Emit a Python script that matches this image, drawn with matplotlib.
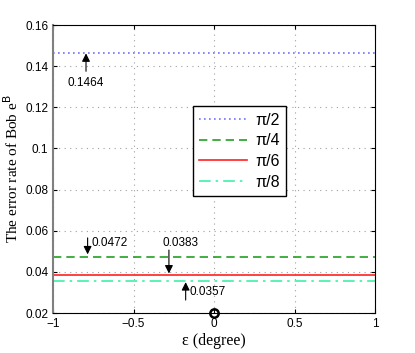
import matplotlib
matplotlib.use('Agg')
import matplotlib.pyplot as plt

# 数据
eps = [-1, 1]
labels = ['π/2', 'π/4', 'π/6', 'π/8']
rates = [0.1464, 0.0472, 0.0383, 0.0357]
colors = ['#7070ff', '#22a022', '#ff2020', '#40f0a8']
styles = [(0, (1, 2)), (0, (5, 3)), '-', (0, (7, 3, 1.5, 3))]

# 标注: (文字, 箭头尾, 箭头头, 文字位置)
notes = [
    ('0.1464', (-0.795, 0.1375), (-0.795, 0.1462), (-0.795, 0.1318)),
    ('0.0472', (-0.785, 0.0565), (-0.785, 0.0485), (-0.76, 0.0540)),
    ('0.0383', (-0.28, 0.0506), (-0.28, 0.0392), (-0.21, 0.0540)),
    ('0.0357', (-0.176, 0.0263), (-0.176, 0.0350), (-0.15, 0.0300)),
]

plt.rcParams['font.family'] = ['Liberation Sans', 'DejaVu Sans']

fig = plt.figure(figsize=(4.15, 3.53), dpi=100)
ax = fig.add_axes([53 / 415, 40 / 353, 322 / 415, 288 / 353])

for lab, r, c, s in zip(labels, rates, colors, styles):
    ax.plot(eps, [r, r], color=c, linestyle=s, linewidth=1.2, label=lab)

ax.plot([0], [0.02], 'o', markersize=6, markerfacecolor='none',
        markeredgecolor='black', markeredgewidth=1.8, clip_on=False, zorder=5)

for txt, tail, head, pos in notes:
    ax.annotate('', xy=head, xytext=tail,
                arrowprops=dict(arrowstyle='-|>', color='black', lw=0.8,
                                mutation_scale=12, shrinkA=0, shrinkB=0))
    ha = 'center' if txt in ('0.1464', '0.0383') else 'left'
    ax.text(pos[0], pos[1], txt, fontsize=8.5, ha=ha, va='center')

ax.set_xlim(-1, 1)
ax.set_ylim(0.02, 0.16)
ax.set_xticks([-1, -0.5, 0, 0.5, 1])
ax.set_xticklabels(['−1', '−0.5', '0', '0.5', '1'])
ax.set_yticks([0.02, 0.04, 0.06, 0.08, 0.1, 0.12, 0.14, 0.16])
ax.set_yticklabels(['0.02', '0.04', '0.06', '0.08', '0.1', '0.12', '0.14', '0.16'])
ax.tick_params(direction='in', labelsize=8.5, length=3, top=True, right=True)
ax.grid(True, linestyle=(0, (1, 4)), color='#a0a0a0', linewidth=0.8)
ax.spines['left'].set_color('#808080')
ax.spines['left'].set_linewidth(1.5)

ax.set_xlabel('ε (degree)', fontsize=11.5, family='Liberation Serif', labelpad=2)
ax.set_ylabel('The error rate of Bob e$^{\\mathrm{B}}$', fontsize=11,
              family='Liberation Serif', labelpad=3)

ax.legend(loc='upper left', bbox_to_anchor=(0.41, 0.745), fontsize=11.5,
          frameon=True, fancybox=False, edgecolor='black', framealpha=1,
          handlelength=3.0, borderpad=0.4, labelspacing=0.35, handletextpad=0.5)

plt.savefig('out.png', dpi=100)
